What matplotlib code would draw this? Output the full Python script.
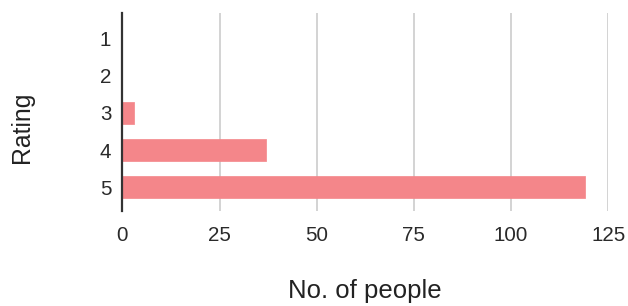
import matplotlib
matplotlib.use("Agg")
import matplotlib.pyplot as plt

ratings = ["1", "2", "3", "4", "5"]
counts = [0, 0, 3, 37, 119]
x_ticks = [0, 25, 50, 75, 100, 125]

plt.rcParams['font.family'] = ['Liberation Sans', 'DejaVu Sans']

fig = plt.figure(figsize=(6.28, 3.06), dpi=100)
ax = fig.add_axes([122.3 / 628, 1 - 210.7 / 306, (608.3 - 122.3) / 628, (210.7 - 12.7) / 306])

pos = list(range(1, len(ratings) + 1))
bars = ax.barh(pos, counts, height=0.62, color='#f4868a', edgecolor='#f4868a',
               linewidth=0.5, zorder=3)
for b in bars:
    b.set_joinstyle('round')
    if b.get_width() == 0:
        b.set_visible(False)

ax.set_xlim(0, 125)
ax.set_ylim(5.64, 0.29)
ax.set_yticks(pos)
ax.set_yticklabels(ratings)
ax.set_xticks(x_ticks)
ax.set_xticklabels([str(t) for t in x_ticks])

for s in ['top', 'right', 'bottom']:
    ax.spines[s].set_visible(False)
ax.spines['left'].set_color('#333333')
ax.spines['left'].set_linewidth(1.6)
ax.spines['left'].set_zorder(4)

ax.grid(axis='x', color='#cccccc', linewidth=1.2, zorder=0)
ax.tick_params(axis='both', length=0, labelsize=14.8, colors='#2a2a2a')
ax.tick_params(axis='y', pad=8)
ax.tick_params(axis='x', pad=11)
ax.xaxis.grid(True)
ax.yaxis.grid(False)
ax.set_axisbelow(True)

fig.text(365 / 628, 1 - 298.3 / 306, "No. of people", ha='center', va='baseline',
         fontsize=18.5, color='#222222')
fig.text(22.5 / 628, 1 - 127 / 306, "Rating", ha='center', va='center', rotation=90,
         fontsize=17.8, color='#222222')

fig.savefig("out.png", dpi=100)
